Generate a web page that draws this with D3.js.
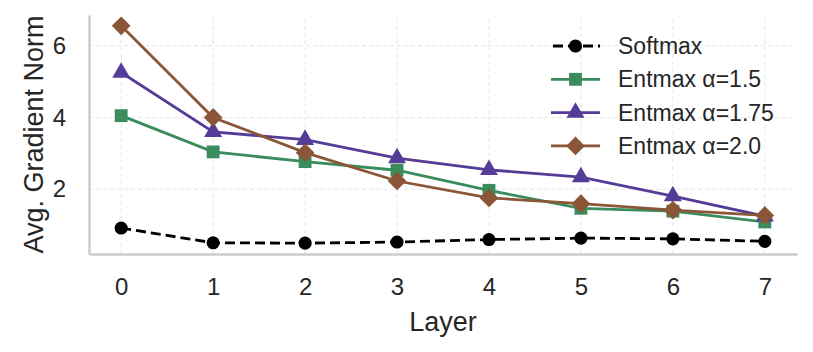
<!DOCTYPE html>
<html>
<head>
<meta charset="utf-8">
<script src="https://cdn.jsdelivr.net/npm/d3@7"></script>
<style>
  body { margin: 0; background: #fff; }
  svg { font-family: "Liberation Sans", Arial, sans-serif; }
</style>
</head>
<body>
<svg id="chart" width="813" height="352"></svg>
<script>
// data
const layers = [0, 1, 2, 3, 4, 5, 6, 7];
const softmax = [0.92, 0.51, 0.50, 0.53, 0.60, 0.64, 0.62, 0.55];
const entmax15 = [4.05, 3.04, 2.77, 2.53, 1.97, 1.47, 1.39, 1.09];
const entmax175 = [5.25, 3.60, 3.38, 2.87, 2.54, 2.34, 1.81, 1.25];
const entmax20 = [6.55, 4.00, 3.02, 2.23, 1.76, 1.60, 1.42, 1.27];
const yTicks = [2, 4, 6];
const seriesNames = ["Softmax", "Entmax \u03b1=1.5", "Entmax \u03b1=1.75", "Entmax \u03b1=2.0"];

// diamond = square turned 45 degrees, like matplotlib "D"
const series = [
    {name: seriesNames[0], values: softmax, color: "#000000", marker: d3.symbolCircle, size: 135, rot: 0, dash: "10,5"},
    {name: seriesNames[1], values: entmax15, color: "#3a8c5c", marker: d3.symbolSquare, size: 165, rot: 0, dash: null},
    {name: seriesNames[2], values: entmax175, color: "#553c96", marker: d3.symbolTriangle, size: 140, rot: 0, dash: null},
    {name: seriesNames[3], values: entmax20, color: "#8b5637", marker: d3.symbolSquare, size: 175, rot: 45, dash: null}
];

const svg = d3.select("#chart");
const margin = {left: 89, right: 16, top: 15, bottom: 98};
const W = 813, H = 352;

let allVals = [].concat(softmax, entmax15, entmax175, entmax20);
let yMin = d3.min(allVals), yMax = d3.max(allVals);
let pad = (yMax - yMin) * 0.05;

let x = d3.scaleLinear()
    .domain([-0.35, 7.35])
    .range([margin.left, W - margin.right]);
let y = d3.scaleLinear()
    .domain([yMin - pad, yMax + pad])
    .range([H - margin.bottom, margin.top]);

// grid
let grid = svg.append("g");
grid.selectAll(".gy").data(yTicks).enter().append("line")
    .attr("x1", x.range()[0]).attr("x2", x.range()[1])
    .attr("y1", d => y(d)).attr("y2", d => y(d))
    .attr("stroke", "#e6e6e6").attr("stroke-width", 1).attr("stroke-dasharray", "4,3");
grid.selectAll(".gx").data(layers).enter().append("line")
    .attr("x1", d => x(d)).attr("x2", d => x(d))
    .attr("y1", y.range()[0]).attr("y2", y.range()[1])
    .attr("stroke", "#e6e6e6").attr("stroke-width", 1).attr("stroke-dasharray", "4,3");

// axes
let xAxis = svg.append("g")
    .attr("transform", "translate(0," + y.range()[0] + ")")
    .call(d3.axisBottom(x).tickValues(layers).tickSize(0).tickPadding(24).tickFormat(d3.format("d")));
let yAxis = svg.append("g")
    .attr("transform", "translate(" + x.range()[0] + ",0)")
    .call(d3.axisLeft(y).tickValues(yTicks).tickSize(0).tickPadding(23).tickFormat(d3.format("d")));
[xAxis, yAxis].forEach(function(a){
    a.select(".domain").attr("stroke", "#cccccc").attr("stroke-width", 2.5);
    a.selectAll("text").attr("font-size", 24).attr("fill", "#262626")
        .attr("font-family", "'Liberation Sans', Arial, sans-serif");
});

svg.append("text")
    .attr("x", (x.range()[0] + x.range()[1]) / 2).attr("y", 331)
    .attr("text-anchor", "middle").attr("font-size", 27).attr("fill", "#262626")
    .text("Layer");
svg.append("text")
    .attr("transform", "translate(43," + ((y.range()[0] + y.range()[1]) / 2) + ") rotate(-90)")
    .attr("text-anchor", "middle").attr("font-size", 27).attr("fill", "#262626")
    .text("Avg. Gradient Norm");

// lines + markers
let line = d3.line().x((d, i) => x(layers[i])).y(d => y(d));
series.forEach(function(s){
    let g = svg.append("g");
    g.append("path").datum(s.values)
        .attr("d", line).attr("fill", "none")
        .attr("stroke", s.color).attr("stroke-width", 2.8)
        .attr("stroke-dasharray", s.dash);
    g.selectAll("path.m").data(s.values).enter().append("path")
        .attr("class", "m")
        .attr("d", d3.symbol().type(s.marker).size(s.size))
        .attr("transform", (d, i) => "translate(" + x(layers[i]) + "," + y(d) + ") rotate(" + s.rot + ")")
        .attr("fill", s.color);
});

// legend
let legend = svg.append("g").attr("transform", "translate(551,46)");
series.forEach(function(s, i){
    let row = legend.append("g").attr("transform", "translate(0," + (i * 33.3) + ")");
    row.append("line").attr("x1", 0).attr("x2", 49).attr("y1", 0).attr("y2", 0)
        .attr("stroke", s.color).attr("stroke-width", 2.8)
        .attr("stroke-dasharray", s.dash ? "10,5" : null)
        .attr("stroke-dashoffset", s.dash ? -2 : null);
    row.append("path")
        .attr("d", d3.symbol().type(s.marker).size(s.size))
        .attr("transform", "translate(24.5,0) rotate(" + s.rot + ")")
        .attr("fill", s.color);
    row.append("text").attr("x", 67).attr("y", 0).attr("dy", "0.35em")
        .attr("font-size", 23).attr("fill", "#262626")
        .text(s.name);
});
</script>
</body>
</html>
